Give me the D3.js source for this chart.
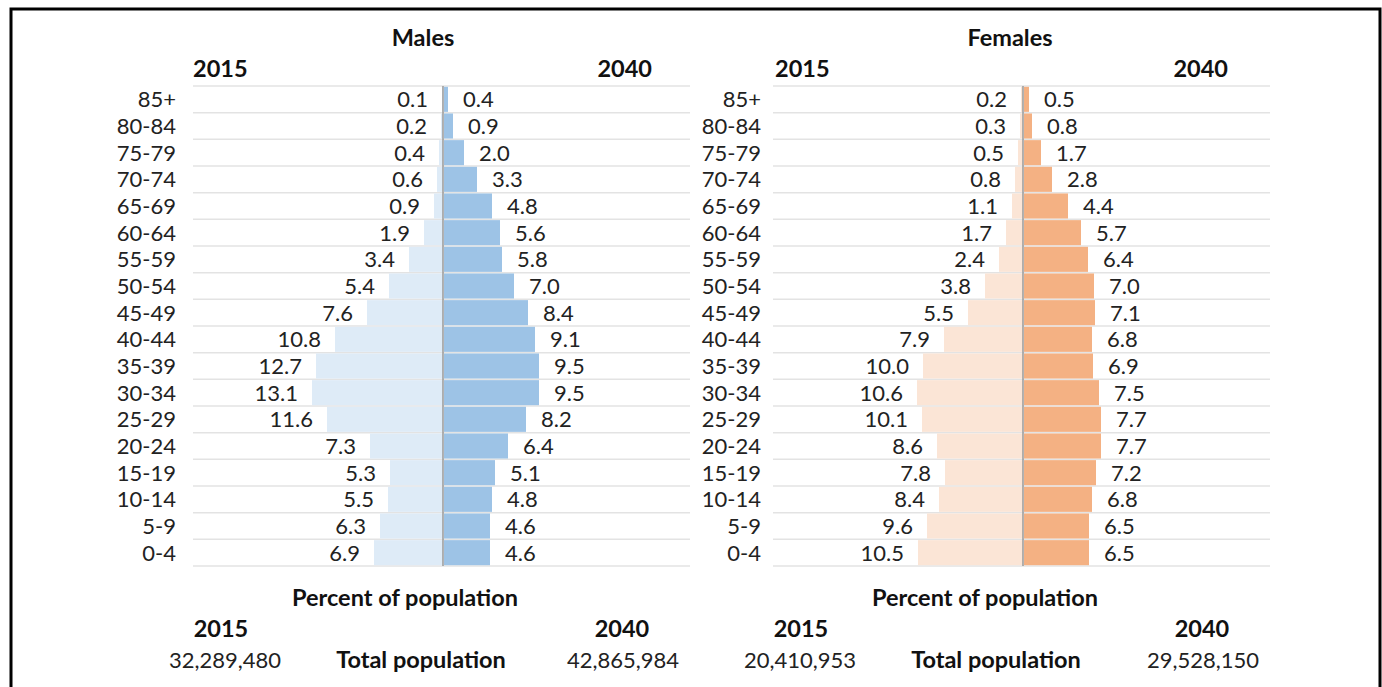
<!DOCTYPE html>
<html>
<head>
<meta charset="utf-8">
<script src="https://cdn.jsdelivr.net/npm/d3@7"></script>
<style>
  html, body { margin: 0; padding: 0; background: #fff; }
  svg { display: block; font-family: Lato, "Open Sans", sans-serif; }
  .lbl { font-size: 22px; fill: #222; }
  .bold { font-size: 23.5px; font-weight: bold; fill: #111; }
</style>
</head>
<body>
<svg id="chart" width="1382" height="687"></svg>
<script>
// age groups, top to bottom
const ageGroups = ["85+", "80-84", "75-79", "70-74", "65-69", "60-64", "55-59", "50-54", "45-49",
  "40-44", "35-39", "30-34", "25-29", "20-24", "15-19", "10-14", "5-9", "0-4"];

const males2015 = [0.1, 0.2, 0.4, 0.6, 0.9, 1.9, 3.4, 5.4, 7.6, 10.8, 12.7, 13.1, 11.6, 7.3, 5.3, 5.5, 6.3, 6.9];
const males2040 = [0.4, 0.9, 2.0, 3.3, 4.8, 5.6, 5.8, 7.0, 8.4, 9.1, 9.5, 9.5, 8.2, 6.4, 5.1, 4.8, 4.6, 4.6];
const females2015 = [0.2, 0.3, 0.5, 0.8, 1.1, 1.7, 2.4, 3.8, 5.5, 7.9, 10.0, 10.6, 10.1, 8.6, 7.8, 8.4, 9.6, 10.5];
const females2040 = [0.5, 0.8, 1.7, 2.8, 4.4, 5.7, 6.4, 7.0, 7.1, 6.8, 6.9, 7.5, 7.7, 7.7, 7.2, 6.8, 6.5, 6.5];

const years = ["2015", "2040"];
const maleTotals = ["32,289,480", "42,865,984"];
const femaleTotals = ["20,410,953", "29,528,150"];

const svg = d3.select("#chart");

// outer frame (no bottom edge visible)
svg.append("path")
  .attr("d", "M11,690 L11,9 L1380,9 L1380,690")
  .attr("fill", "none")
  .attr("stroke", "#000")
  .attr("stroke-width", 3);

const y = d3.scaleBand()
  .domain(ageGroups)
  .range([86, 566])
  .paddingInner(0.06)
  .paddingOuter(0.03);

const rowEdges = d3.range(ageGroups.length + 1).map(i => 86 + i * (480 / ageGroups.length));

function drawPanel(cfg) {
  const g = svg.append("g");
  const cx = cfg.center;
  const xl = d3.scaleLinear().domain([0, 25]).range([cx, cx - 250]);
  const xr = d3.scaleLinear().domain([0, 25]).range([cx, cx + 250]);

  // gridlines
  g.selectAll(".grid")
    .data(rowEdges)
    .enter()
    .append("line")
    .attr("x1", cx - 250)
    .attr("x2", cx + 247)
    .attr("y1", d => d)
    .attr("y2", d => d)
    .attr("stroke", "#e3e3e3")
    .attr("stroke-width", 1.5);

  const rows = ageGroups.map((a, i) => ({ age: a, v1: cfg.left[i], v2: cfg.right[i] }));

  // bars
  g.selectAll(".barL")
    .data(rows)
    .enter()
    .append("rect")
    .attr("x", d => xl(d.v1))
    .attr("y", d => y(d.age))
    .attr("width", d => xl(0) - xl(d.v1))
    .attr("height", y.bandwidth())
    .attr("fill", cfg.lightColor);

  g.selectAll(".barR")
    .data(rows)
    .enter()
    .append("rect")
    .attr("x", cx + 1)
    .attr("y", d => y(d.age))
    .attr("width", d => xr(d.v2) - xr(0))
    .attr("height", y.bandwidth())
    .attr("fill", cfg.darkColor);

  // value labels with white boxes
  const mid = d => y(d.age) + y.bandwidth() / 2;

  rows.forEach(d => {
    const tl = g.append("text")
      .attr("class", "lbl")
      .attr("x", xl(d.v1) - 14)
      .attr("y", mid(d) + 8)
      .attr("text-anchor", "end")
      .text(d.v1.toFixed(1));
    const bl = tl.node().getBBox();
    g.insert("rect", "text")
      .attr("x", bl.x - 4).attr("y", mid(d) - 12)
      .attr("width", bl.width + 8).attr("height", 24)
      .attr("fill", "#fff");

    const tr = g.append("text")
      .attr("class", "lbl")
      .attr("x", xr(d.v2) + 16)
      .attr("y", mid(d) + 8)
      .attr("text-anchor", "start")
      .text(d.v2.toFixed(1));
    const br = tr.node().getBBox();
    g.insert("rect", "text")
      .attr("x", br.x - 4).attr("y", mid(d) - 12)
      .attr("width", br.width + 8).attr("height", 24)
      .attr("fill", "#fff");
  });

  // center axis
  g.append("line")
    .attr("x1", cx).attr("x2", cx)
    .attr("y1", 86).attr("y2", 566)
    .attr("stroke", "#999")
    .attr("stroke-width", 1.5);

  // age labels
  g.selectAll(".age")
    .data(ageGroups)
    .enter()
    .append("text")
    .attr("class", "lbl")
    .attr("x", cfg.ageX)
    .attr("y", d => y(d) + y.bandwidth() / 2 + 8)
    .attr("text-anchor", "end")
    .text(d => d);

  // headers
  g.append("text").attr("class", "bold")
    .attr("x", cfg.titleX).attr("y", 46)
    .attr("text-anchor", "middle").text(cfg.title);
  g.append("text").attr("class", "bold")
    .attr("x", cx + cfg.yearLeft).attr("y", 77)
    .attr("text-anchor", "start").text(years[0]);
  g.append("text").attr("class", "bold")
    .attr("x", cx + cfg.yearRight).attr("y", 77)
    .attr("text-anchor", "end").text(years[1]);

  // footer
  g.append("text").attr("class", "bold")
    .attr("x", cx - 38).attr("y", 606)
    .attr("text-anchor", "middle").text("Percent of population");
  g.append("text").attr("class", "bold")
    .attr("x", cx - 222).attr("y", 637)
    .attr("text-anchor", "middle").text(years[0]);
  g.append("text").attr("class", "bold")
    .attr("x", cx + 179).attr("y", 637)
    .attr("text-anchor", "middle").text(years[1]);
  g.append("text").attr("class", "lbl")
    .attr("x", cx + cfg.total0).attr("y", 668)
    .attr("text-anchor", "middle").text(cfg.totals[0]);
  g.append("text").attr("class", "bold")
    .attr("x", cx + cfg.totalMid).attr("y", 668)
    .attr("text-anchor", "middle").text("Total population");
  g.append("text").attr("class", "lbl")
    .attr("x", cx + 180).attr("y", 668)
    .attr("text-anchor", "middle").text(cfg.totals[1]);
}

drawPanel({
  center: 443, left: males2015, right: males2040,
  lightColor: "#deebf7", darkColor: "#9dc3e6",
  ageX: 176, title: "Males", titleX: 423,
  yearLeft: -250, yearRight: 209,
  totals: maleTotals, total0: -218, totalMid: -22
});

drawPanel({
  center: 1023, left: females2015, right: females2040,
  lightColor: "#fbe5d6", darkColor: "#f4b183",
  ageX: 761, title: "Females", titleX: 1010,
  yearLeft: -248, yearRight: 205,
  totals: femaleTotals, total0: -223, totalMid: -27
});
</script>
</body>
</html>
